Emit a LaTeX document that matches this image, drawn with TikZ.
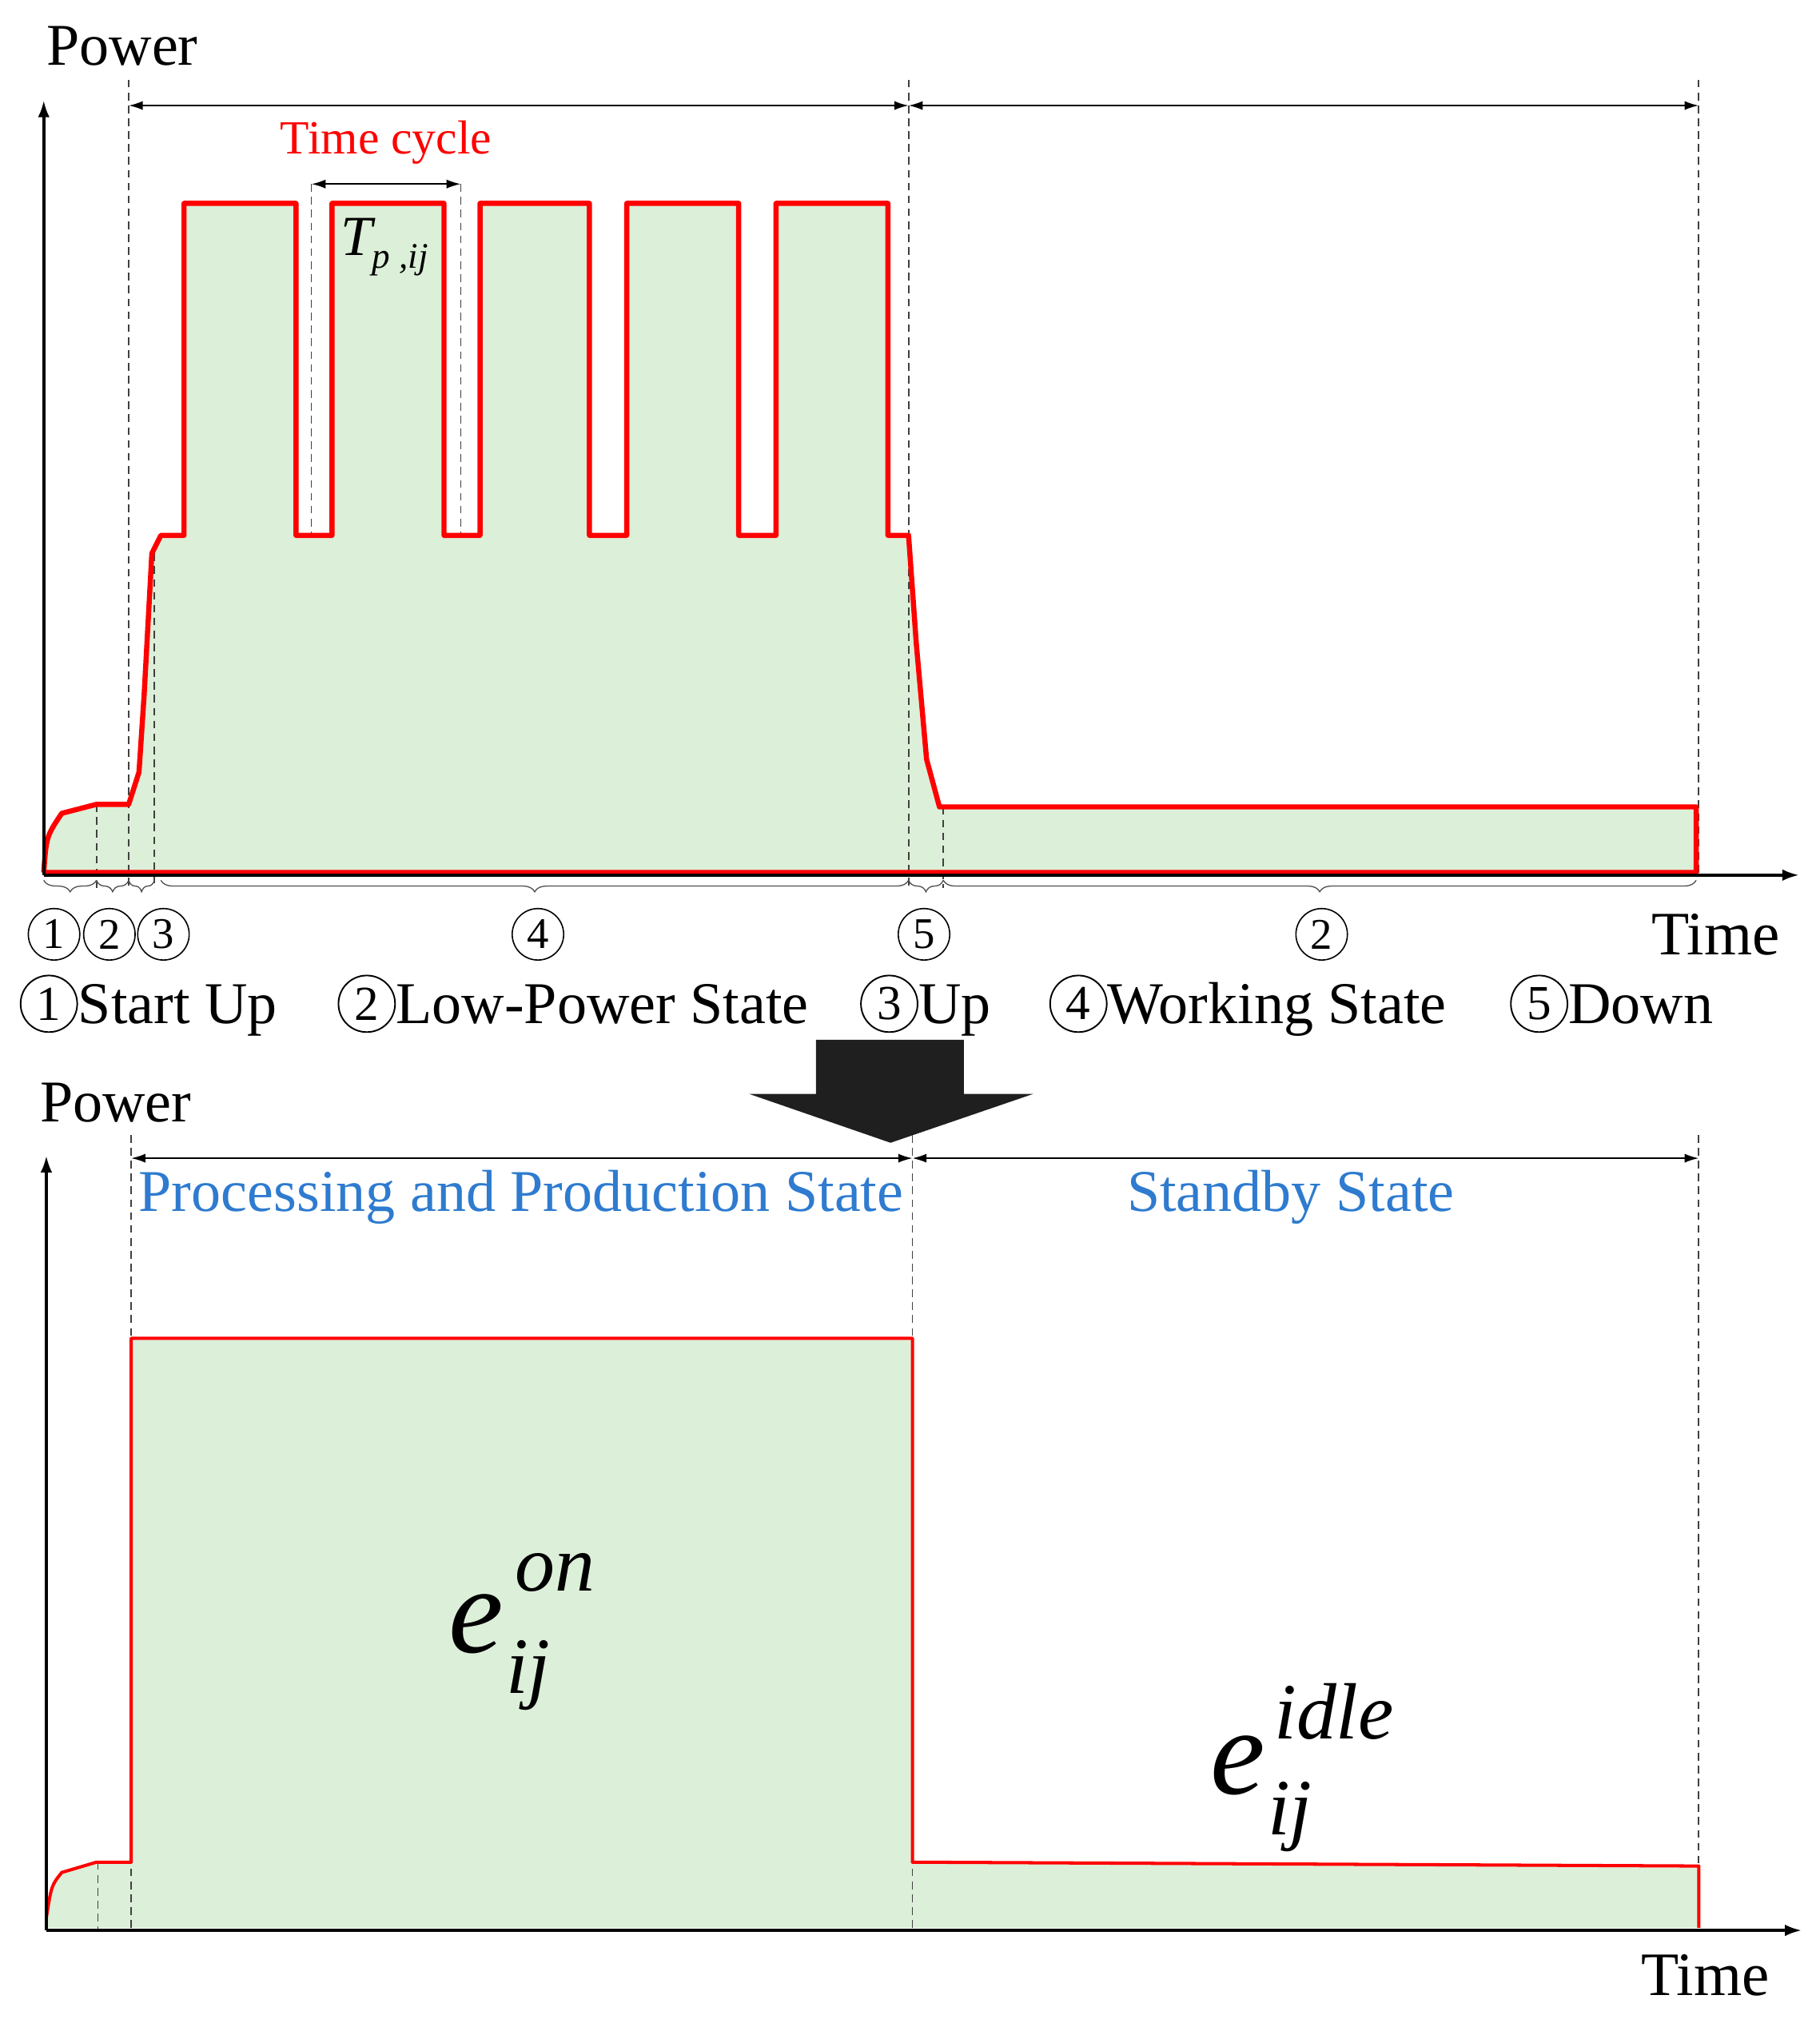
\documentclass[tikz,border=0pt]{standalone}
\usepackage{fontspec}
\setmainfont{Liberation Serif}
\usetikzlibrary{arrows.meta,decorations.pathreplacing}
\definecolor{fillg}{HTML}{DCEFD8}
\definecolor{tblue}{HTML}{2E7BCF}
\begin{document}
\begin{tikzpicture}[x=1pt,y=-1pt,
  ax/.style={line width=2.2pt,-{Latex[length=13pt,width=9pt]}},
  dsh/.style={dash pattern=on 6pt off 4pt,line width=1pt,gray!50!black},
  dim/.style={line width=1.2pt,{Latex[length=11pt,width=7pt]}-{Latex[length=11pt,width=7pt]}},
  brc/.style={decorate,decoration={brace,mirror,amplitude=9pt},line width=0.8pt,gray!60!black},
  cn/.style={circle,draw,line width=1pt,inner sep=1pt,minimum size=40pt,font=\fontsize{34}{34}\selectfont},
  cl/.style={circle,draw,line width=1.2pt,inner sep=1pt,minimum size=44pt,font=\fontsize{38}{38}\selectfont},
  lab/.style={font=\fontsize{42}{42}\selectfont,inner sep=0pt},
  leg/.style={font=\fontsize{46}{46}\selectfont,inner sep=0pt,anchor=base west},
  big/.style={font=\fontsize{96}{96}\selectfont\itshape,inner sep=0pt},
  sml/.style={font=\fontsize{62}{62}\selectfont\itshape,inner sep=0pt}]
\useasboundingbox (0,0) rectangle (1414,1572);
% ---------- top plot
\fill[fillg] (34,678) .. controls (36,650) .. (48,632) -- (75,625) -- (100,625) -- (108,600) -- (112,540) -- (118,430) -- (125,416) -- (143,416) -- (143,158) -- (230,158) -- (230,416) -- (258,416) -- (258,158) -- (345,158) -- (345,416) -- (373,416) -- (373,158) -- (458,158) -- (458,416) -- (487,416) -- (487,158) -- (574,158) -- (574,416) -- (603,416) -- (603,158) -- (690,158) -- (690,416) -- (706,416) -- (712,500) -- (720,590) -- (730,627) -- (1318,627) -- (1318,678) -- cycle;
\foreach \x/\a/\b in {75/625/690,100/62/690,120/430/690,706/62/690,733/627/690,1320/62/680,242/143/416,358/143/416}
  \draw[dsh] (\x,\a) -- (\x,\b);
\draw[red,line width=4pt,line join=round] (34,678) .. controls (36,650) .. (48,632) -- (75,625) -- (100,625) -- (108,600) -- (112,540) -- (118,430) -- (125,416) -- (143,416) -- (143,158) -- (230,158) -- (230,416) -- (258,416) -- (258,158) -- (345,158) -- (345,416) -- (373,416) -- (373,158) -- (458,158) -- (458,416) -- (487,416) -- (487,158) -- (574,158) -- (574,416) -- (603,416) -- (603,158) -- (690,158) -- (690,416) -- (706,416) -- (712,500) -- (720,590) -- (730,627) -- (1318,627) -- (1318,678) -- (34,678);
\coordinate (o1) at (34,680);
\coordinate (yt1) at (34,78);
\coordinate (xt1) at (1398,680);
\draw[ax] (o1) -- (yt1);
\draw[ax] (o1) -- (xt1);
\node[lab,font=\fontsize{46}{46}\selectfont] (pw1) at (95,36) {Power};
\coordinate (a1) at (100,82); \coordinate (a2) at (706,82); \coordinate (a3) at (1320,82);
\draw[dim] (a1) -- (a2); \draw[dim] (a2) -- (a3);
\coordinate (c1) at (242,143); \coordinate (c2) at (358,143);
\draw[dim] (c1) -- (c2);
\node[lab,red,font=\fontsize{37}{37}\selectfont] (tc) at (300,111) {Time cycle};
\node[lab,font=\fontsize{44}{44}\selectfont\itshape] (tp) at (277,184) {T};
\node[lab,font=\fontsize{28}{28}\selectfont\itshape,anchor=west] (tps) at (289,202) {p ,ij};
% braces
\foreach \a/\b in {34/75,75/100,100/120,125/706,706/733,733/1318}
  \draw[brc] (\a,684) -- (\b,684);
\node[cn] (n1) at (42,726) {1};
\node[cn] (n2) at (85,726) {2};
\node[cn] (n3) at (127,726) {3};
\node[cn] (n4) at (418,726) {4};
\node[cn] (n5) at (718,726) {5};
\node[cn] (n6) at (1027,726) {2};
\node[lab,font=\fontsize{48}{48}\selectfont] (tm1) at (1333,726) {Time};
% legend
\node[cl] (l1) at (38,780) {1}; \node[leg] (t1) at (l1.east |- 0,795) {Start Up};
\node[cl] (l2) at (285,780) {2}; \node[leg] (t2) at (l2.east |- 0,795) {Low-Power State};
\node[cl] (l3) at (691,780) {3}; \node[leg] (t3) at (l3.east |- 0,795) {Up};
\node[cl] (l4) at (838,780) {4}; \node[leg] (t4) at (l4.east |- 0,795) {Working State};
\node[cl] (l5) at (1196,780) {5}; \node[leg] (t5) at (l5.east |- 0,795) {Down};
% big arrow
\fill[black!88] (634,808) -- (749,808) -- (749,850) -- (803,850) -- (692,888) -- (582,850) -- (634,850) -- cycle;
% ---------- bottom plot
\fill[fillg] (36,1498) -- (36,1490) .. controls (40,1465) .. (48,1455) -- (75,1447) -- (102,1447) -- (102,1040) -- (709,1040) -- (709,1447) -- (1320,1450) -- (1320,1498) -- cycle;
\foreach \x/\a/\b in {76/1447/1500,102/882/1500,709/882/1500,1320/882/1500}
  \draw[dsh] (\x,\a) -- (\x,\b);
\draw[red,line width=2.5pt,line join=round] (36,1490) .. controls (40,1465) .. (48,1455) -- (75,1447) -- (102,1447) -- (102,1040) -- (709,1040) -- (709,1447) -- (1320,1450) -- (1320,1498);
\coordinate (o2) at (36,1500);
\coordinate (yt2) at (36,898);
\coordinate (xt2) at (1400,1500);
\draw[ax] (o2) -- (yt2);
\draw[ax] (o2) -- (xt2);
\node[lab,font=\fontsize{46}{46}\selectfont] (pw2) at (90,857) {Power};
\coordinate (b1) at (102,900); \coordinate (b2) at (709,900); \coordinate (b3) at (1320,900);
\draw[dim] (b1) -- (b2); \draw[dim] (b2) -- (b3);
\node[lab,tblue,font=\fontsize{46}{46}\selectfont] (ps) at (405,930) {Processing and Production State};
\node[lab,tblue,font=\fontsize{46}{46}\selectfont] (ss) at (1003,930) {Standby State};
\node[big] (eon) at (370,1262) {e};
\node[sml,anchor=west] (eons) at (400,1222) {on};
\node[sml,anchor=west] (eonb) at (393,1302) {ij};
\node[big] (eid) at (962,1372) {e};
\node[sml,anchor=west] (eids) at (990,1330) {idle};
\node[sml,anchor=west] (eidb) at (985,1412) {ij};
\node[lab,font=\fontsize{48}{48}\selectfont] (tm2) at (1325,1535) {Time};
\end{tikzpicture}
\end{document}
